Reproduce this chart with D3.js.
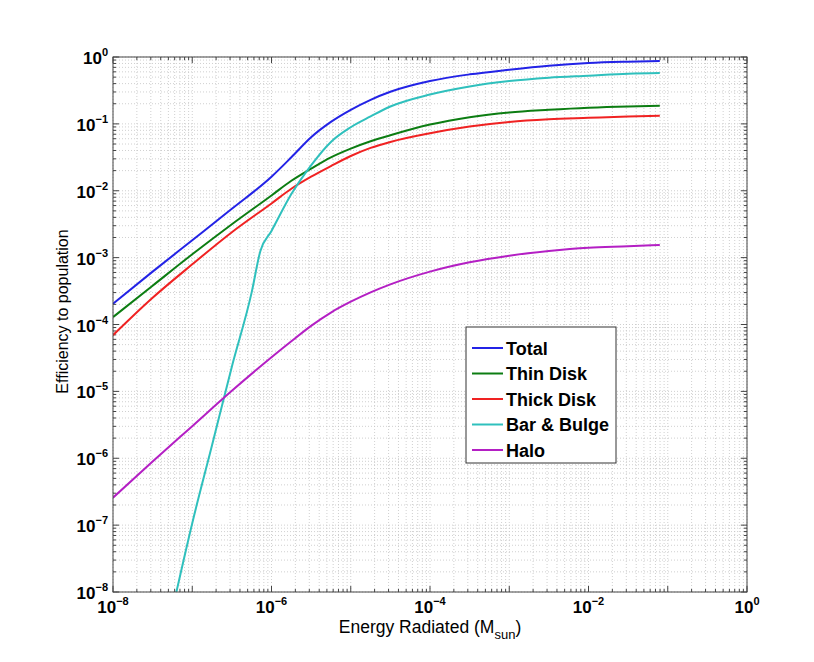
<!DOCTYPE html>
<html>
<head>
<meta charset="utf-8">
<script src="https://cdn.jsdelivr.net/npm/d3@7"></script>
<style>
  body { margin: 0; background: #fff; }
  text { font-family: "Liberation Sans", Arial, Helvetica, sans-serif; }
</style>
</head>
<body>
<div id="chart-container"></div>
<script>
// energies (M_sun) shared by most series
const energy = [1e-8, 3.16e-8, 1e-7, 3.16e-7, 1e-6, 1.78e-6, 3.16e-6, 5.62e-6, 1e-5, 1.78e-5,
    3.16e-5, 1e-4, 3.16e-4, 1e-3, 3.16e-3, 1e-2, 3.16e-2, 7.94e-2];
const total = [2.04e-4, 6.17e-4, 1.82e-3, 5.37e-3, 1.62e-2, 3.16e-2, 6.31e-2, 0.107, 0.162, 0.229,
    0.302, 0.437, 0.550, 0.646, 0.741, 0.813, 0.851, 0.871];
const thinDisk = [1.29e-4, 3.80e-4, 1.12e-3, 3.16e-3, 8.51e-3, 1.41e-2, 2.14e-2, 3.16e-2, 4.27e-2, 5.50e-2,
    6.76e-2, 9.77e-2, 0.126, 0.148, 0.162, 0.174, 0.182, 0.186];
const thickDisk = [6.92e-5, 2.51e-4, 7.94e-4, 2.40e-3, 6.46e-3, 1.07e-2, 1.62e-2, 2.34e-2, 3.31e-2, 4.37e-2,
    5.37e-2, 7.24e-2, 9.12e-2, 0.107, 0.117, 0.123, 0.129, 0.132];
const halo = [2.57e-7, 8.91e-7, 3.02e-6, 1.02e-5, 3.24e-5, 5.62e-5, 9.55e-5, 1.51e-4, 2.19e-4, 3.02e-4,
    3.98e-4, 6.17e-4, 8.51e-4, 1.07e-3, 1.26e-3, 1.41e-3, 1.48e-3, 1.55e-3];
// bar & bulge has its own sampling (steep rise at low energy)
const bulgeEnergy = [6.03e-8, 1e-7, 1.78e-7, 3.16e-7, 5.62e-7, 7.24e-7, 1e-6, 1.78e-6, 3.16e-6, 5.62e-6,
    1e-5, 1.78e-5, 3.16e-5, 1e-4, 3.16e-4, 1e-3, 3.16e-3, 1e-2, 3.16e-2, 7.94e-2];
const barBulge = [7.9e-9, 1.07e-7, 1.58e-6, 2.34e-5, 3.02e-4, 1.26e-3, 2.51e-3, 8.91e-3, 2.40e-2, 5.37e-2,
    8.91e-2, 0.129, 0.182, 0.275, 0.363, 0.437, 0.490, 0.525, 0.562, 0.575];

const seriesNames = ["Total", "Thin Disk", "Thick Disk", "Bar & Bulge", "Halo"];
const seriesColors = ["#2323e6", "#0c7d12", "#f02222", "#2fc0bd", "#b41fc4"];
const xTickExp = [-8, -6, -4, -2, 0];
const yTickExp = [0, -1, -2, -3, -4, -5, -6, -7, -8];

const svgWidth = 814,
    svgHeight = 662,
    margin = { top: 57, right: 67, bottom: 70, left: 113 },
    width = svgWidth - margin.left - margin.right,
    height = svgHeight - margin.top - margin.bottom;

var root = d3.select("#chart-container").append("svg")
    .attr("width", svgWidth)
    .attr("height", svgHeight);
var svg = root.append("g")
    .attr("transform", "translate(" + margin.left + "," + margin.top + ")");

let xScale = d3.scaleLog().domain([1e-8, 1]).range([0, width]),
    yScale = d3.scaleLog().domain([1e-8, 1]).range([height, 0]);

// grid: minor then major, dotted like matlab
let xMinor = [], yMinor = [];
for (let e = -8; e < 0; e++) {
    for (let k = 2; k <= 9; k++) {
        xMinor.push(k * Math.pow(10, e));
        yMinor.push(k * Math.pow(10, e));
    }
}
let xMajor = d3.range(-8, 1).map(e => Math.pow(10, e));
let yMajor = yTickExp.map(e => Math.pow(10, e));

let grid = svg.append("g").attr("class", "grid");
grid.selectAll("line.xg")
    .data(xMinor.concat(xMajor))
    .join("line")
    .attr("x1", d => xScale(d)).attr("x2", d => xScale(d))
    .attr("y1", 0).attr("y2", height)
    .attr("stroke", "#c4c4c4").attr("stroke-width", 0.8)
    .attr("stroke-dasharray", "1,2");
grid.selectAll("line.yg")
    .data(yMinor.concat(yMajor))
    .join("line")
    .attr("x1", 0).attr("x2", width)
    .attr("y1", d => yScale(d)).attr("y2", d => yScale(d))
    .attr("stroke", "#c4c4c4").attr("stroke-width", 0.8)
    .attr("stroke-dasharray", "1,2");

// inward ticks on all four sides
let ticks = svg.append("g").attr("stroke", "#444").attr("stroke-width", 1);
xMinor.concat(xMajor).forEach(function (d) {
    let len = xMajor.includes(d) ? 6 : 3;
    let x = xScale(d);
    ticks.append("line").attr("x1", x).attr("x2", x).attr("y1", height).attr("y2", height - len);
    ticks.append("line").attr("x1", x).attr("x2", x).attr("y1", 0).attr("y2", len);
});
yMinor.concat(yMajor).forEach(function (d) {
    let len = yMajor.includes(d) ? 6 : 3;
    let y = yScale(d);
    ticks.append("line").attr("x1", 0).attr("x2", len).attr("y1", y).attr("y2", y);
    ticks.append("line").attr("x1", width).attr("x2", width - len).attr("y1", y).attr("y2", y);
});

// clip for curves
svg.append("clipPath").attr("id", "clip")
    .append("rect").attr("width", width).attr("height", height);

let line = d3.line()
    .x(d => xScale(d[0]))
    .y(d => yScale(d[1]))
    .curve(d3.curveMonotoneX);

let seriesData = [
    d3.zip(energy, total),
    d3.zip(energy, thinDisk),
    d3.zip(energy, thickDisk),
    d3.zip(bulgeEnergy, barBulge),
    d3.zip(energy, halo)
];

svg.append("g").attr("clip-path", "url(#clip)")
    .selectAll("path")
    .data(seriesData)
    .join("path")
    .attr("d", line)
    .attr("fill", "none")
    .attr("stroke", (d, i) => seriesColors[i])
    .attr("stroke-width", 2);

// frame
svg.append("rect")
    .attr("width", width).attr("height", height)
    .attr("fill", "none").attr("stroke", "#444").attr("stroke-width", 1);

// tick labels, 10 with superscript exponent
function powLabel(sel) {
    sel.each(function (d) {
        let t = d3.select(this);
        t.append("tspan").text("10");
        t.append("tspan").attr("dy", -8).attr("font-size", 11).text(d === 0 ? "0" : "\u2212" + (-d));
    });
}

svg.selectAll("text.xt")
    .data(xTickExp)
    .join("text")
    .attr("x", d => xScale(Math.pow(10, d)))
    .attr("y", height + 21)
    .attr("text-anchor", "middle")
    .attr("font-size", 17).attr("font-weight", "bold")
    .call(powLabel);

svg.selectAll("text.yt")
    .data(yTickExp)
    .join("text")
    .attr("x", -5)
    .attr("y", d => yScale(Math.pow(10, d)) + 7)
    .attr("text-anchor", "end")
    .attr("font-size", 17).attr("font-weight", "bold")
    .call(powLabel);

// axis titles
let xt = svg.append("text")
    .attr("x", width / 2).attr("y", height + 41)
    .attr("text-anchor", "middle")
    .attr("font-size", 17.5);
xt.append("tspan").text("Energy Radiated (M");
xt.append("tspan").attr("dy", 6).attr("font-size", 13).text("sun");
xt.append("tspan").attr("dy", -6).text(")");

svg.append("text")
    .attr("transform", `translate(-45, ${height / 2 - 13}) rotate(-90)`)
    .attr("text-anchor", "middle")
    .attr("font-size", 16)
    .text("Efficiency to population");

// legend
let legend = root.append("g").attr("transform", "translate(466, 327)");
legend.append("rect")
    .attr("width", 150).attr("height", 136)
    .attr("fill", "#fff").attr("stroke", "#333").attr("stroke-width", 1);
let rows = legend.selectAll("g.row")
    .data(seriesNames)
    .join("g")
    .attr("transform", (d, i) => `translate(0, ${21 + i * 25.5})`);
rows.append("line")
    .attr("x1", 6).attr("x2", 37)
    .attr("stroke", (d, i) => seriesColors[i]).attr("stroke-width", 2);
rows.append("text")
    .attr("x", 40).attr("y", 6.5)
    .attr("font-size", 18).attr("font-weight", "bold")
    .text(d => d);
</script>
</body>
</html>
